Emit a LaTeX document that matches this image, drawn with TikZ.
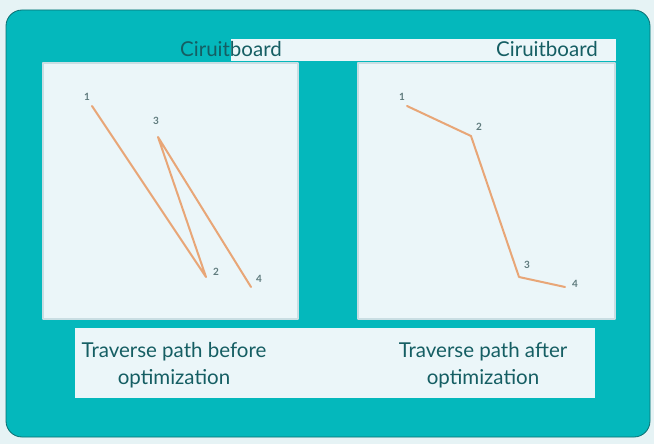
\documentclass[tikz,border=0pt]{standalone}
\usepackage{fontspec}
\setmainfont{Lato}
\usepackage{xcolor}
\usetikzlibrary{calc}

\definecolor{pagebg}{HTML}{E6F3F5}
\definecolor{boardteal}{HTML}{04B8BC}
\definecolor{boardedge}{HTML}{0B6F72}
\definecolor{panelfill}{HTML}{EBF6F9}
\definecolor{paneledge}{HTML}{C9DEE3}
\definecolor{captext}{HTML}{155E63}
\definecolor{pathline}{HTML}{E8A677}
\definecolor{digitgray}{HTML}{5F7B7D}

\begin{document}
\begin{tikzpicture}[x=1pt, y=-1pt, line join=round,
  panel/.style={fill=panelfill, draw=paneledge, line width=1.5pt},
  route/.style={draw=pathline, line width=2pt, line cap=round},
  digit/.style={text=digitgray, font=\fontsize{10}{12}\selectfont\bfseries, inner sep=1pt},
  title/.style={text=captext, font=\fontsize{20.5}{24}\selectfont, inner sep=0pt},
  caption/.style={text=captext, font=\fontsize{20.5}{27}\selectfont, align=center, inner sep=0pt}]

\useasboundingbox (0,0) rectangle (654,444);
\fill[pagebg] (0,0) rectangle (654,444);

% board
\draw[fill=boardteal, draw=boardedge, line width=0.8pt, rounded corners=16pt] (6,10) rectangle (650,437);

% title strip and panels
\fill[panelfill] (231,39) rectangle (616,61);
\draw[panel] (43,63) rectangle (298,319);
\draw[panel] (358,63) rectangle (615,319);
\fill[panelfill] (75,328) rectangle (595,398);

\node[title, anchor=base west] (titleA) at (180,57) {Ciruitboard};
\node[title, anchor=base west] (titleB) at (496,57) {Ciruitboard};

% before optimization
\coordinate (a1) at (92,106);
\coordinate (a2) at (206,277);
\coordinate (a3) at (158,137);
\coordinate (a4) at (251,287);
\draw[route] (a1) -- (a2) -- (a3) -- (a4);
\node[digit] (la1) at (87,97) {1};
\node[digit] (la2) at (216,272) {2};
\node[digit] (la3) at (156,121) {3};
\node[digit] (la4) at (259,279) {4};

% after optimization
\coordinate (b1) at (407,106);
\coordinate (b2) at (471,136);
\coordinate (b3) at (519,277);
\coordinate (b4) at (565,287);
\draw[route] (b1) -- (b2) -- (b3) -- (b4);
\node[digit] (lb1) at (402,97) {1};
\node[digit] (lb2) at (479,127) {2};
\node[digit] (lb3) at (527,265) {3};
\node[digit] (lb4) at (575,284) {4};

% captions
\node[caption] (capA) at (174,365) {Traverse path before\\optimization};
\node[caption] (capB) at (483,365) {Traverse path after\\optimization};

\end{tikzpicture}
\end{document}
